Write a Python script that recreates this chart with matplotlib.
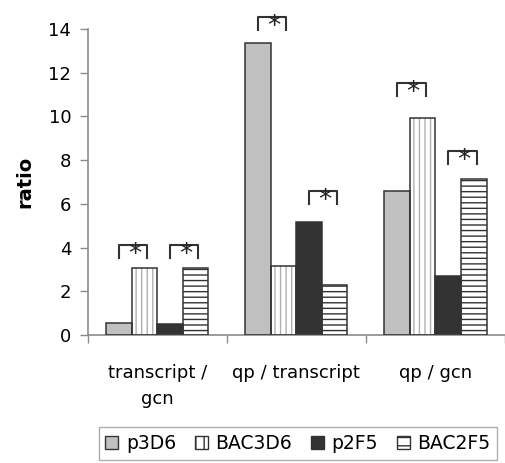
# plot.py
# ratio bar chart with significance brackets

import matplotlib
matplotlib.use('Agg')
import matplotlib.pyplot as plt
from matplotlib.patches import Patch
import numpy as np

categories = ['transcript /\ngcn', 'qp / transcript', 'qp / gcn']
series = ['p3D6', 'BAC3D6', 'p2F5', 'BAC2F5']
p3D6 = [0.54, 13.34, 6.59]
BAC3D6 = [3.08, 3.17, 9.94]
p2F5 = [0.52, 5.18, 2.71]
BAC2F5 = [3.08, 2.29, 7.12]
values = [p3D6, BAC3D6, p2F5, BAC2F5]

# significance brackets: (category index, left series, right series, bracket top)
brackets = [(0, 0, 1, 4.12), (0, 2, 3, 4.12),
            (1, 0, 1, 14.55), (1, 2, 3, 6.59),
            (2, 0, 1, 11.53), (2, 2, 3, 8.42)]

plt.rcParams['font.family'] = 'DejaVu Sans'
edge = '#333333'
axis_gray = '#8c8c8c'
styles = [dict(face='#c0c0c0', hatch=None, hcolor=None),
          dict(face='white', hatch='|||', hcolor='#b0b0b0'),
          dict(face='#333333', hatch=None, hcolor=None),
          dict(face='white', hatch='---', hcolor='#333333')]

fig = plt.figure(figsize=(5.05, 4.63), dpi=100)
ax = fig.add_axes([0.174, 0.2765, 0.826, 0.661])

x = np.arange(len(categories))
w = 0.1835
offsets = [-1.5 * w, -0.5 * w, 0.5 * w, 1.5 * w]

for i, vals in enumerate(values):
    st = styles[i]
    if st['hatch']:
        ax.bar(x + offsets[i], vals, w, color=st['face'], edgecolor=st['hcolor'],
               hatch=st['hatch'], linewidth=0, zorder=2)
    else:
        ax.bar(x + offsets[i], vals, w, color=st['face'], linewidth=0, zorder=2)
    ax.bar(x + offsets[i], vals, w, fill=False, edgecolor=edge, linewidth=1.1, zorder=3)

leg_len = 0.62
for cat, a, b, top in brackets:
    xl = x[cat] + offsets[a]
    xr = x[cat] + offsets[b] + 0.02
    ax.plot([xl, xl, xr, xr], [top - leg_len, top, top, top - leg_len],
            color=edge, lw=1.5, clip_on=False, zorder=4)
    ax.text((xl + xr) / 2 + 0.01, top - 0.45, '*', ha='center', va='center',
            fontsize=19, color='#222222', clip_on=False, zorder=5)

ax.set_xlim(-0.5, 2.5)
ax.set_ylim(0, 14)
ax.set_yticks(range(0, 15, 2))
ax.set_xticks(x)
ax.set_xticklabels(categories, fontsize=13, linespacing=1.55)
ax.set_xticks([-0.5, 0.5, 1.5, 2.5], minor=True)
ax.tick_params(axis='x', which='major', length=0, pad=21)
ax.tick_params(axis='x', which='minor', length=6, color=axis_gray, width=1)
ax.tick_params(axis='y', length=6, color=axis_gray, width=1, pad=6, labelsize=13)
for s in ['top', 'right']:
    ax.spines[s].set_visible(False)
for s in ['left', 'bottom']:
    ax.spines[s].set_color(axis_gray)
    ax.spines[s].set_linewidth(1.2)
ax.set_ylabel('ratio', fontsize=14, fontweight='bold', labelpad=10)

handles = []
for i, name in enumerate(series):
    st = styles[i]
    if st['hatch']:
        handles.append(Patch(facecolor='white', edgecolor=edge, hatch=st['hatch'][:2], label=name))
    else:
        handles.append(Patch(facecolor=st['face'], edgecolor=edge, label=name))
fig.legend(handles=handles, loc='center', bbox_to_anchor=(0.590, 0.042), ncol=4,
           fontsize=13.5, handlelength=0.7, handleheight=0.7, handletextpad=0.4,
           columnspacing=1.0, fancybox=False, edgecolor='#999999',
           borderpad=0.35, borderaxespad=0)

fig.savefig('out.png', dpi=100)
